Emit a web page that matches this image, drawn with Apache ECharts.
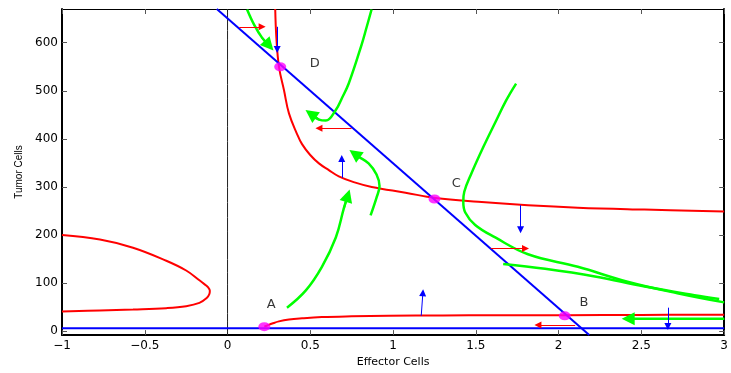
<!DOCTYPE html>
<html>
<head>
<meta charset="utf-8">
<script src="https://cdn.jsdelivr.net/npm/echarts@6/dist/echarts.min.js"></script>
<style>
  html, body { margin: 0; padding: 0; background: #fff; }
  #chart { width: 731px; height: 373px; }
</style>
</head>
<body>
<div id="chart"></div>
<script>
// tick labels
const xTicks = [-1, -0.5, 0, 0.5, 1, 1.5, 2, 2.5, 3]
const yTicks = [0, 100, 200, 300, 400, 500, 600]

// red nullcline, three branches  [effector, tumor]
const redUpper = [[0.288, 670], [0.295, 610], [0.311, 549], [0.341, 501], [0.371, 453], [0.42, 410],
  [0.45, 389], [0.498, 367], [0.552, 349], [0.612, 335], [0.672, 322], [0.762, 310], [0.871, 300],
  [1.075, 288], [1.256, 277], [1.514, 269], [1.815, 262], [2.116, 257], [2.518, 253], [3.0, 249]]
const redLeft = [[-1, 200], [-0.771, 190.6], [-0.571, 173.7], [-0.37, 146.6], [-0.25, 126.3],
  [-0.17, 106], [-0.14, 98], [-0.117, 91], [-0.107, 84], [-0.11, 77], [-0.126, 69], [-0.17, 59],
  [-0.25, 52.1], [-0.37, 48], [-0.571, 45.2], [-0.771, 43.2], [-1, 41.2]]
const redLower = [[0.222, 9.5], [0.24, 12], [0.27, 16], [0.31, 20.5], [0.371, 24.5], [0.45, 27],
  [0.57, 29.5], [0.75, 31], [0.973, 32], [1.3, 33], [1.616, 33.5], [2.037, 33.5], [2.5, 34], [3.0, 34.5]]

// blue nullclines
const blueFlat = [[-1, 6], [3, 6]]
const blueDiag = [[-0.065, 670], [2.185, -8]]

// green trajectories, last point = arrow head
const greenPaths = [
  { data: [[0.118, 669], [0.161, 637], [0.209, 610], [0.251, 594]], head: true },
  { data: [[0.87, 669], [0.84, 632], [0.81, 596], [0.732, 515], [0.69, 484], [0.654, 460],
    [0.594, 438], [0.552, 440], [0.503, 452]], head: true },
  { data: [[0.359, 49], [0.473, 85], [0.57, 134], [0.654, 195], [0.702, 255], [0.726, 282]], head: true },
  { data: [[0.864, 241], [0.9, 278], [0.918, 302], [0.9, 326], [0.852, 349], [0.792, 363], [0.768, 369]], head: true },
  { data: [[1.743, 515], [1.683, 480], [1.617, 434], [1.545, 383], [1.473, 328], [1.43, 290], [1.424, 270],
    [1.436, 247], [1.496, 221], [1.617, 195], [1.815, 160], [2.116, 134], [2.416, 103], [2.717, 79], [3.0, 60]], head: false },
  { data: [[1.665, 140], [1.918, 130], [2.219, 114], [2.52, 93], [2.82, 75], [2.97, 67]], head: false },
  { data: [[3.0, 26], [2.42, 26]], head: true }
]

// small direction arrows [x1, y1, x2, y2]
const redArrows = [[0.071, 633, 0.209, 633], [0.749, 422, 0.552, 422], [1.59, 172, 1.8, 172], [2.1, 13, 1.875, 13]]
const blueArrows = [[0.3, 633, 0.3, 586], [0.69, 319, 0.69, 359], [1.77, 262, 1.77, 211], [1.17, 32, 1.18, 80], [2.66, 49, 2.66, 10]]

// steady states and their labels
const points = [[0.222, 9.5], [2.037, 32], [1.25, 275], [0.318, 550]]
const pointLabels = [['A', 0.263, 55], ['B', 2.153, 60], ['C', 1.381, 307], ['D', 0.527, 557]]

const chart = echarts.init(document.getElementById('chart'))

const line = (data, color, width) => ({
  type: 'line',
  data,
  symbol: 'none',
  smooth: 0.4,
  silent: true,
  lineStyle: { color, width }
})

const arrows = (list, color, width, size) => ({
  type: 'line',
  data: [],
  silent: true,
  markLine: {
    silent: true,
    symbol: ['none', 'triangle'],
    symbolSize: size,
    label: { show: false },
    lineStyle: { color, width, type: 'solid' },
    emphasis: { disabled: true },
    data: list.map(a => [{ coord: [a[0], a[1]] }, { coord: [a[2], a[3]] }])
  }
})

const headSegs = greenPaths.filter(p => p.head).map(p => {
  const n = p.data.length
  return [p.data[n - 2][0], p.data[n - 2][1], p.data[n - 1][0], p.data[n - 1][1]]
})

const font = 'DejaVu Sans'
const fmt = v => String(v).replace('-', '\u2212')

const series = [
  line([[0, -8], [0, 670]], '#222', 1),
  line(redUpper, '#ff0000', 2),
  line(redLeft, '#ff0000', 2),
  line(redLower, '#ff0000', 2),
  line(blueFlat, '#0000ff', 2),
  line(blueDiag, '#0000ff', 2),
  ...greenPaths.map(p => line(p.data, '#00ff00', 2.5)),
  arrows(headSegs, '#00ff00', 2, 13),
  arrows(redArrows, '#ff0000', 1, 7),
  arrows(blueArrows, '#0000ff', 1, 7),
  {
    type: 'scatter',
    data: points,
    symbol: 'circle',
    symbolSize: [12, 9],
    z: 5,
    silent: true,
    itemStyle: { color: '#ff00ff' }
  },
  {
    type: 'scatter',
    data: pointLabels.map(p => ({ name: p[0], value: [p[1], p[2]] })),
    symbolSize: 0,
    silent: true,
    label: {
      show: true,
      position: 'inside',
      formatter: '{b}',
      color: '#000',
      fontFamily: font,
      fontSize: 13
    }
  }
]

chart.setOption({
  animation: false,
  backgroundColor: '#fff',
  grid: { left: 62, right: 4, top: 9, bottom: 30 },
  xAxis: [
    {
      type: 'value', min: -1, max: 3, interval: 0.5, position: 'bottom',
      name: 'Effector Cells', nameLocation: 'middle', nameGap: 20,
      nameTextStyle: { color: '#000', fontFamily: font, fontSize: 11 },
      axisLine: { onZero: false, lineStyle: { color: '#000', width: 2 } },
      axisTick: { inside: true, length: 5, lineStyle: { color: '#555' } },
      axisLabel: { formatter: fmt, color: '#000', fontFamily: font, fontSize: 12, margin: 5 },
      splitLine: { show: false }
    },
    {
      type: 'value', min: -1, max: 3, interval: 0.5, position: 'top',
      axisLine: { onZero: false, lineStyle: { color: '#000', width: 1 } },
      axisTick: { inside: true, length: 5, lineStyle: { color: '#555' } },
      axisLabel: { show: false },
      splitLine: { show: false }
    }
  ],
  yAxis: [
    {
      type: 'value', min: -8, max: 670, position: 'left',
      name: 'Tumor Cells', nameLocation: 'middle', nameGap: 38,
      nameTextStyle: { color: '#000', fontFamily: 'Liberation Sans', fontSize: 10 },
      axisLine: { onZero: false, lineStyle: { color: '#000', width: 2 } },
      axisTick: { inside: true, length: 5, customValues: yTicks, lineStyle: { color: '#555' } },
      axisLabel: { customValues: yTicks, color: '#000', fontFamily: font, fontSize: 12, margin: 4 },
      splitLine: { show: false }
    },
    {
      type: 'value', min: -8, max: 670, position: 'right',
      axisLine: { onZero: false, lineStyle: { color: '#000', width: 2 } },
      axisTick: { inside: true, length: 5, customValues: yTicks, lineStyle: { color: '#555' } },
      axisLabel: { show: false },
      splitLine: { show: false }
    }
  ],
  series
})
</script>
</body>
</html>
